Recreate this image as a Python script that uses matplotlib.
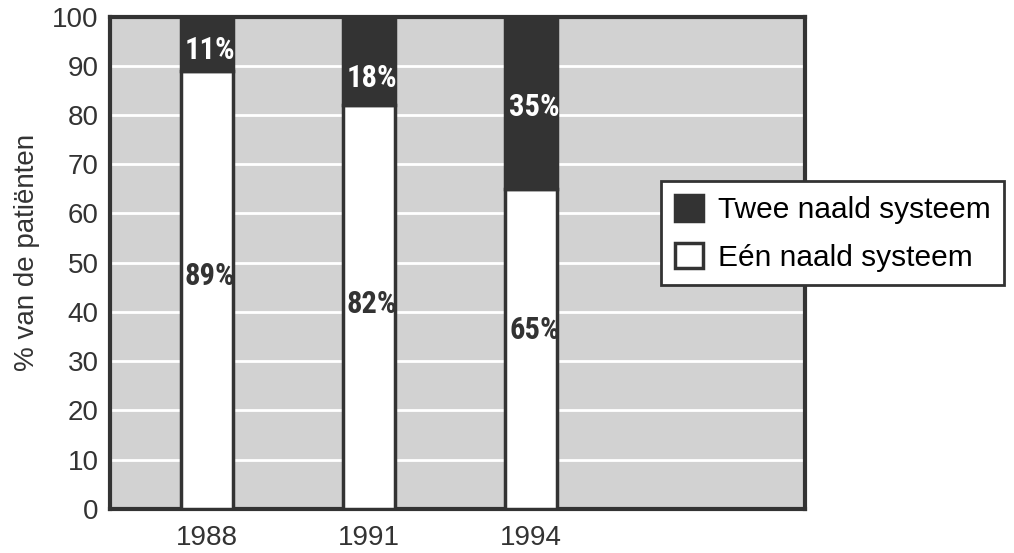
import matplotlib.pyplot as plt
import numpy as np

years = ['1988', '1991', '1994']
een_naald = [89, 82, 65]
twee_naald = [11, 18, 35]
label_twee = 'Twee naald systeem'
label_een = 'Eén naald systeem'

# vertical placement of the percentage labels inside each segment
top_label_y = [93.3, 87.6, 81.7]
bottom_label_y = [47.2, 41.7, 36.4]

dark = '#333333'
plt.rcParams['font.family'] = ['Liberation Sans', 'DejaVu Sans']

fig = plt.figure(figsize=(10.14, 5.53), dpi=100)
ax = fig.add_axes([0.108, 0.08, 0.686, 0.89])

x = np.arange(len(years))
width = 0.32
ax.set_facecolor('#d2d2d2')
for y in range(10, 100, 10):
    ax.axhline(y, color='white', lw=2, zorder=1)

b1 = ax.bar(x, een_naald, width, color='white', edgecolor=dark, lw=2.5, zorder=3, label=label_een)
b2 = ax.bar(x, twee_naald, width, bottom=een_naald, color=dark, edgecolor=dark, lw=2.5, zorder=3, label=label_twee)

cond = dict(family='Roboto Condensed', fontweight='bold', fontsize=22,
            ha='center', va='center', zorder=5)
for xi, v, ty in zip(x, twee_naald, top_label_y):
    ax.text(xi + 0.02, ty, f'{v}%', color='white', **cond)
for xi, v, ty in zip(x, een_naald, bottom_label_y):
    ax.text(xi + 0.02, ty, f'{v}%', color=dark, **cond)

ax.set_xlim(-0.6, 3.69)
ax.set_ylim(0, 100)
ax.set_yticks(range(0, 101, 10))
ax.set_xticks(x, years)
ax.tick_params(length=0, labelsize=20, colors=dark)
ax.tick_params(axis='x', pad=12)
ax.tick_params(axis='y', pad=8)
for s in ax.spines.values():
    s.set_linewidth(3)
    s.set_color(dark)
ax.set_ylabel('% van de patiënten', fontsize=20, color=dark)
ax.yaxis.set_label_coords(-0.10, 0.52)

leg = ax.legend(handles=[b2, b1], loc='upper left', bbox_to_anchor=(0.793, 0.665),
                fontsize=21.5, frameon=True, fancybox=False, framealpha=1,
                edgecolor=dark, handlelength=0.95, handleheight=0.95,
                borderpad=0.45, labelspacing=0.62, handletextpad=0.5,
                borderaxespad=0)
leg.get_frame().set_linewidth(2)
leg.set_zorder(10)
leg.set_clip_on(False)

fig.savefig('out.png', dpi=100)
